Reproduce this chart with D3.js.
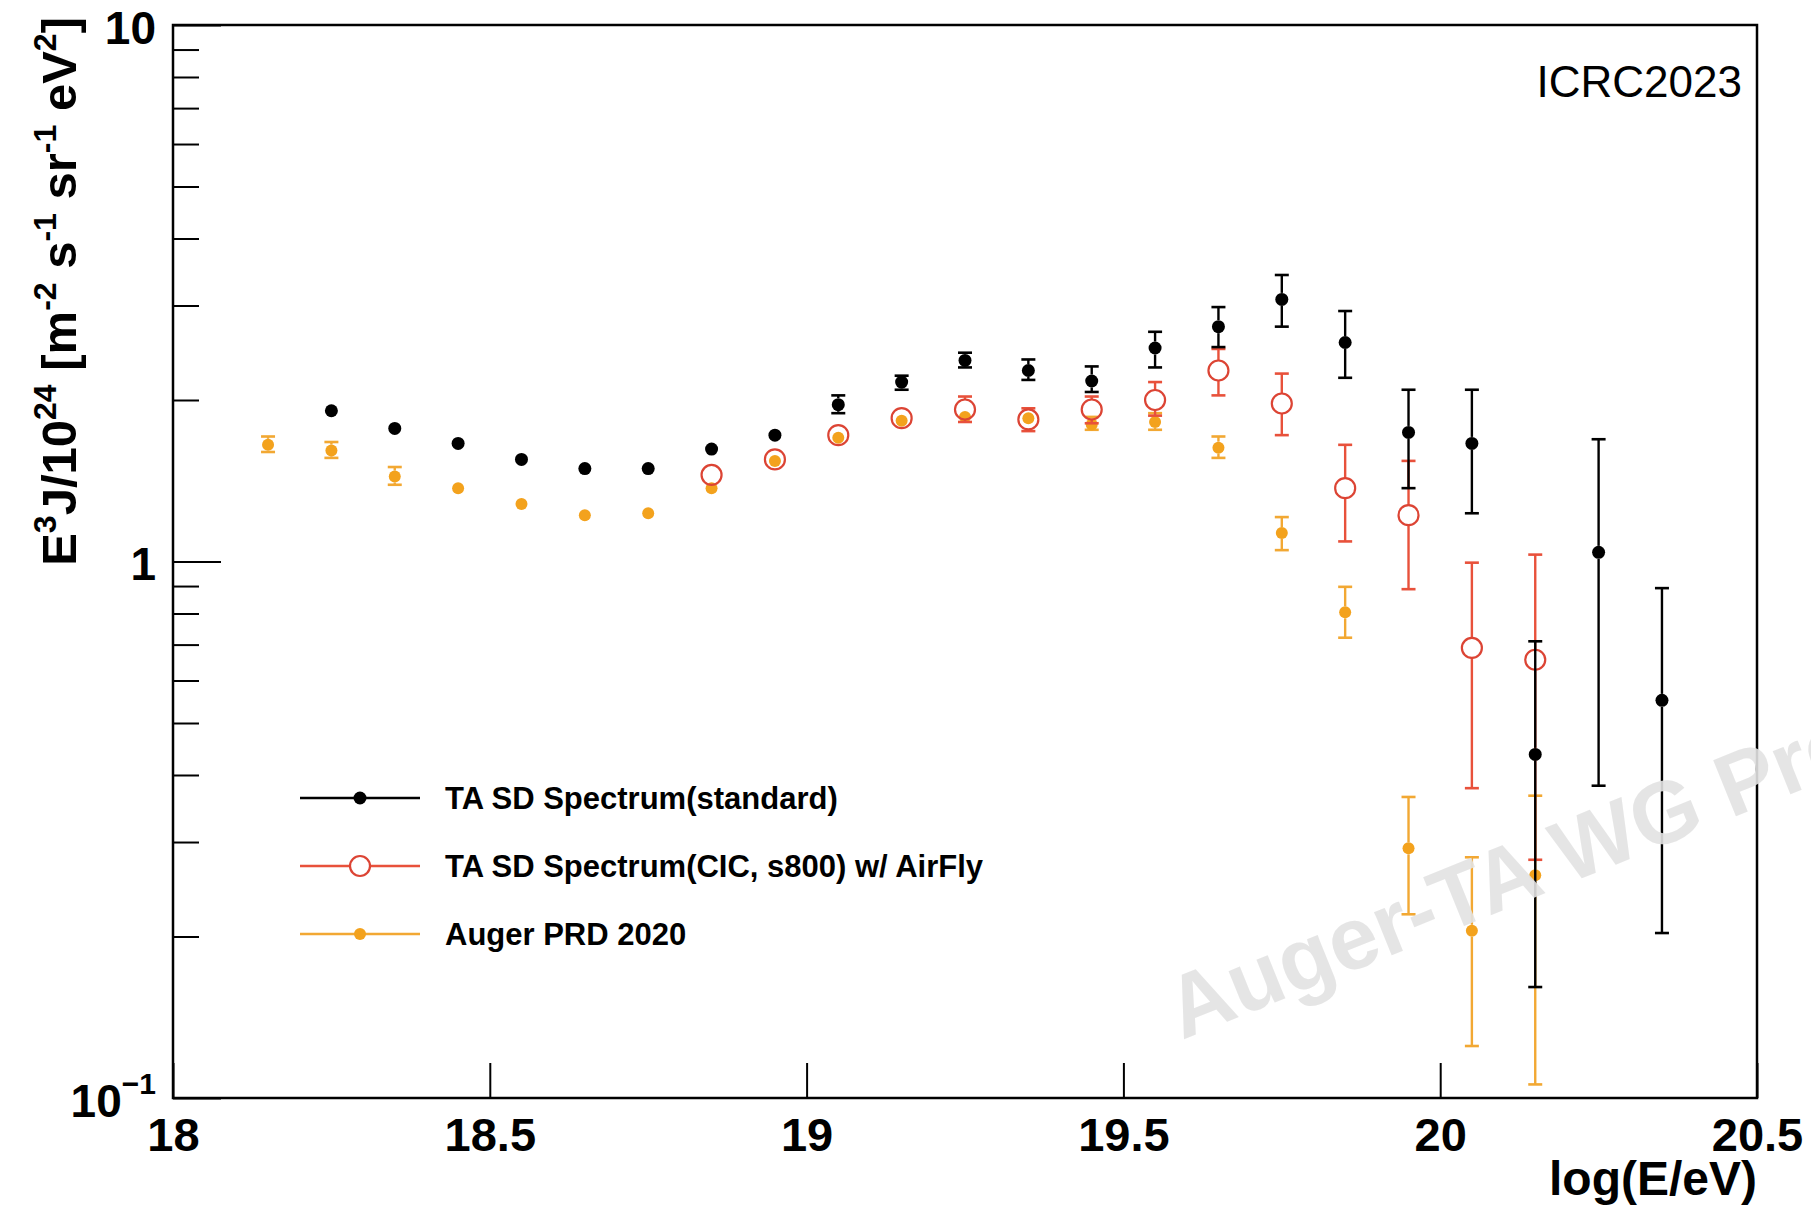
<!DOCTYPE html>
<html>
<head>
<meta charset="utf-8">
<script src="https://cdn.jsdelivr.net/npm/d3@7"></script>
<style>
  html, body { margin: 0; padding: 0; background: #fff; }
  svg { display: block; }
  text { font-family: "Liberation Sans", Arial, Helvetica, sans-serif; }
</style>
</head>
<body>
<svg id="chart" width="1811" height="1212"></svg>
<script>
// log10(E/eV) bin centres
const binsTA   = [18.25, 18.35, 18.45, 18.55, 18.65, 18.75, 18.85, 18.95, 19.05, 19.15, 19.25,
                  19.35, 19.45, 19.55, 19.65, 19.75, 19.85, 19.95, 20.05, 20.15, 20.25, 20.35];
const binsCIC  = [18.85, 18.95, 19.05, 19.15, 19.25, 19.35, 19.45, 19.55, 19.65, 19.75, 19.85,
                  19.95, 20.05, 20.15];
const binsAuger = [18.15, 18.25, 18.35, 18.45, 18.55, 18.65, 18.75, 18.85, 18.95, 19.05, 19.15,
                   19.25, 19.35, 19.45, 19.55, 19.65, 19.75, 19.85, 19.95, 20.05, 20.15];

// E^3 J / 10^24 [m^-2 s^-1 sr^-1 eV^2]
const fluxTA   = [1.91, 1.77, 1.66, 1.55, 1.49, 1.49, 1.62, 1.72, 1.96, 2.16, 2.37,
                  2.27, 2.17, 2.50, 2.74, 3.08, 2.56, 1.74, 1.66, 0.437, 1.04, 0.551];
const upTA     = [null, null, null, null, null, null, null, null, 2.04, 2.22, 2.45,
                  2.38, 2.31, 2.68, 2.98, 3.42, 2.93, 2.09, 2.09, 0.71, 1.69, 0.892];
const lowTA    = [null, null, null, null, null, null, null, null, 1.89, 2.09, 2.30,
                  2.18, 2.07, 2.30, 2.51, 2.74, 2.20, 1.37, 1.23, 0.161, 0.382, 0.203];

const fluxCIC  = [1.45, 1.55, 1.72, 1.85, 1.92, 1.84, 1.92, 2.00, 2.27, 1.97, 1.37,
                  1.22, 0.69, 0.656];
const upCIC    = [null, null, null, null, 2.03, 1.93, 2.03, 2.16, 2.49, 2.24, 1.65,
                  1.54, 0.995, 1.03];
const lowCIC   = [null, null, null, null, 1.82, 1.75, 1.81, 1.87, 2.04, 1.72, 1.09,
                  0.888, 0.378, 0.278];

const fluxAuger = [1.65, 1.61, 1.44, 1.37, 1.28, 1.22, 1.23, 1.37, 1.54, 1.70, 1.83,
                   1.86, 1.85, 1.80, 1.82, 1.63, 1.13, 0.804, 0.292, 0.205, 0.26];
const upAuger   = [1.71, 1.67, 1.50, null, null, null, null, null, null, null, null,
                   null, null, 1.86, 1.89, 1.71, 1.21, 0.897, 0.364, 0.281, 0.366];
const lowAuger  = [1.60, 1.56, 1.39, null, null, null, null, null, null, null, null,
                   null, null, 1.76, 1.76, 1.56, 1.05, 0.721, 0.220, 0.125, 0.106];

const xTicks = [18, 18.5, 19, 19.5, 20, 20.5];
const yMajor = [0.1, 1, 10];
const yMinor = [0.2, 0.3, 0.4, 0.5, 0.6, 0.7, 0.8, 0.9, 2, 3, 4, 5, 6, 7, 8, 9];

const legendLabels = ["TA SD Spectrum(standard)", "TA SD Spectrum(CIC, s800) w/ AirFly", "Auger PRD 2020"];

const svg = d3.select("#chart");
const plot = { left: 173, right: 1757, top: 25, bottom: 1098 };

const x = d3.scaleLinear().domain([18, 20.5]).range([plot.left, plot.right]);
const y = d3.scaleLog().domain([0.1, 10]).range([plot.bottom, plot.top]);

// ---- axes ----
const xAxis = d3.axisBottom(x).tickValues(xTicks).tickFormat(d3.format("")).tickSizeInner(-35).tickSizeOuter(0).tickPadding(20);
const gx = svg.append("g").attr("transform", `translate(0,${plot.bottom})`).call(xAxis);
gx.select(".domain").remove();
gx.selectAll(".tick line").attr("stroke", "#000").attr("stroke-width", 2);
gx.selectAll(".tick text").attr("font-size", 47).attr("font-weight", "bold").attr("fill", "#000");

const yAxisMajor = d3.axisLeft(y).tickValues(yMajor).tickSizeInner(-48).tickSizeOuter(0).tickPadding(17).tickFormat(() => "");
const gy = svg.append("g").attr("transform", `translate(${plot.left},0)`).call(yAxisMajor);
gy.select(".domain").remove();
gy.selectAll(".tick line").attr("stroke", "#000").attr("stroke-width", 2);
gy.selectAll(".tick text").attr("font-size", 46).attr("font-weight", "bold").attr("fill", "#000")
  .attr("dy", "0.4em")
  .each(function(d) {
    const t = d3.select(this);
    if (d >= 1) {
      t.text(d3.format("")(d));
    } else {
      t.append("tspan").text("10");
      t.append("tspan").attr("font-size", 30).attr("dy", "-0.75em").text("\u22121");
    }
  });

const yAxisMinor = d3.axisLeft(y).tickValues(yMinor).tickSizeInner(-26).tickSizeOuter(0).tickFormat(() => "");
const gym = svg.append("g").attr("transform", `translate(${plot.left},0)`).call(yAxisMinor);
gym.select(".domain").remove();
gym.selectAll(".tick line").attr("stroke", "#000").attr("stroke-width", 2);

// frame
svg.append("rect")
  .attr("x", plot.left).attr("y", plot.top)
  .attr("width", plot.right - plot.left).attr("height", plot.bottom - plot.top)
  .attr("fill", "none").attr("stroke", "#000").attr("stroke-width", 2.5);

// axis titles
svg.append("text")
  .attr("x", plot.right).attr("y", 1195)
  .attr("text-anchor", "end").attr("font-size", 48).attr("font-weight", "bold")
  .text("log(E/eV)");

const yt = svg.append("text")
  .attr("transform", `translate(76,17) rotate(-90)`)
  .attr("text-anchor", "end").attr("font-size", 49).attr("font-weight", "bold");
const yParts = [["E", ""], ["3", "sup"], ["J/10", ""], ["24", "sup"], [" [m", ""], ["-2", "sup"],
                [" s", ""], ["-1", "sup"], [" sr", ""], ["-1", "sup"], [" eV", ""], ["2", "sup"], ["]", ""]];
let raised = false;
yParts.forEach(([s, kind]) => {
  const ts = yt.append("tspan").text(s);
  if (kind === "sup") {
    ts.attr("font-size", 32).attr("dy", raised ? 0 : -20);
    raised = true;
  } else if (raised) {
    ts.attr("dy", 20);
    raised = false;
  }
});

svg.append("text")
  .attr("x", 1742).attr("y", 97)
  .attr("text-anchor", "end").attr("font-size", 44)
  .text("ICRC2023");

// ---- data series ----
const series = [
  { name: legendLabels[2], xs: binsAuger, v: fluxAuger, up: upAuger, lo: lowAuger,
    color: "#f3a21d", bar: "#f2a833", r: 6, open: false },
  { name: legendLabels[1], xs: binsCIC, v: fluxCIC, up: upCIC, lo: lowCIC,
    color: "#dc4434", bar: "#e8513b", r: 10, open: true },
  { name: legendLabels[0], xs: binsTA, v: fluxTA, up: upTA, lo: lowTA,
    color: "#000000", bar: "#000000", r: 6.5, open: false }
];

const capHalf = 7;
series.forEach(s => {
  const g = svg.append("g");
  const pts = s.xs.map((xv, i) => ({ x: xv, v: s.v[i], up: s.up[i], lo: s.lo[i] }));
  pts.forEach(p => {
    const px = x(p.x), py = y(p.v);
    const segs = [];
    if (p.up != null && y(p.up) < py - s.r + 2) segs.push([py - s.r, y(p.up)]);
    if (p.lo != null && y(p.lo) > py + s.r - 2) segs.push([py + s.r, y(p.lo)]);
    segs.forEach(([a, b]) => {
      g.append("line").attr("x1", px).attr("x2", px).attr("y1", a).attr("y2", b)
        .attr("stroke", s.bar).attr("stroke-width", 2.4);
      g.append("line").attr("x1", px - capHalf).attr("x2", px + capHalf).attr("y1", b).attr("y2", b)
        .attr("stroke", s.bar).attr("stroke-width", 2.6);
    });
  });
  g.selectAll("circle").data(pts).join("circle")
    .attr("cx", d => x(d.x)).attr("cy", d => y(d.v)).attr("r", s.r)
    .attr("fill", s.open ? "none" : s.color)
    .attr("stroke", s.color).attr("stroke-width", s.open ? 2.2 : 0);
});

// ---- legend ----
const legendRows = [series[2], series[1], series[0]];
const lg = svg.append("g");
legendRows.forEach((s, i) => {
  const ly = 798 + i * 68;
  lg.append("line").attr("x1", 300).attr("x2", 420).attr("y1", ly).attr("y2", ly)
    .attr("stroke", s.bar).attr("stroke-width", 2.4);
  lg.append("circle").attr("cx", 360).attr("cy", ly).attr("r", s.r)
    .attr("fill", s.open ? "#fff" : s.color).attr("stroke", s.color).attr("stroke-width", s.open ? 2.2 : 0);
  lg.append("text").attr("x", 445).attr("y", ly).attr("dy", "0.36em")
    .attr("font-size", 31).attr("font-weight", "bold").text(s.name);
});

// ---- watermark ----
svg.append("text")
  .attr("transform", "translate(1182,1040) rotate(-22)")
  .attr("font-family", "'Open Sans', 'Liberation Sans', sans-serif")
  .attr("font-weight", 700).attr("font-size", 88)
  .attr("fill", "#e2e2e2").attr("fill-opacity", 0.9)
  .text("Auger-TA WG Preliminary");
</script>
</body>
</html>
